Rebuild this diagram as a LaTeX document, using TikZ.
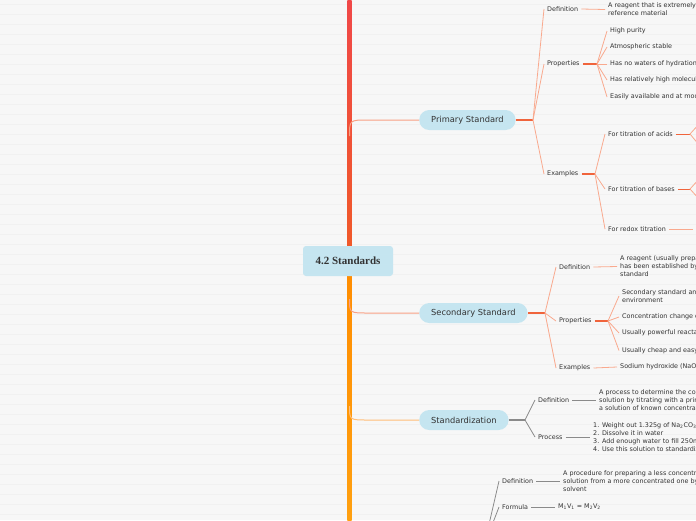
\documentclass[tikz,border=0pt]{standalone}
\usepackage{fontspec}
\setmainfont{DejaVu Sans}
\newfontfamily\rootfont{Liberation Serif}
\definecolor{bgc}{HTML}{F7F7F7}
\definecolor{stripe}{HTML}{F1F1F1}
\definecolor{pillc}{HTML}{C5E5F0}
\definecolor{txt}{HTML}{333333}
\definecolor{salm}{HTML}{F9A98E}
\definecolor{stemr}{HTML}{F0643C}
\definecolor{grayl}{HTML}{8A8A8A}
\definecolor{mainA}{HTML}{F04848}
\definecolor{mainB}{HTML}{F05A28}
\definecolor{mainC}{HTML}{FF8C00}
\definecolor{mainD}{HTML}{FFA010}
\definecolor{brred}{HTML}{F8A084}
\definecolor{brorg}{HTML}{FFBE78}
\tikzset{
  lbl/.style={anchor=west,inner xsep=3pt,inner ysep=1pt,text=txt,align=left,
    font=\fontsize{6.4}{8}\selectfont},
  pill/.style={anchor=west,fill=pillc,rounded corners=10pt,minimum height=20pt,
    inner xsep=12pt,text=txt,font=\fontsize{8.3}{10}\selectfont},
  conn/.style={draw=salm,line width=0.8pt},
  stemc/.style={draw=stemr,line width=1.4pt},
  gconn/.style={draw=grayl,line width=0.8pt},
  gstem/.style={draw=grayl,line width=1.4pt}
}
\begin{document}
\begin{tikzpicture}[x=1pt,y=-1pt]
\useasboundingbox (0,0) rectangle (696,520);
\fill[bgc] (0,0) rectangle (696,520);
\foreach \yy in {4,14,...,514} \draw[stripe,line width=1pt] (0,\yy) -- (696,\yy);
\clip (0,0) rectangle (696,520);

% main trunk
\shade[top color=mainA,bottom color=mainB] (347.3,0) rectangle (351.7,260);
\shade[top color=mainC,bottom color=mainD] (347.3,260) rectangle (351.7,520);

\begin{scope}[yshift=-1pt]
% branch connectors from trunk
\coordinate (bp) at (349.5,135);
\coordinate (bs) at (349.5,298);
\coordinate (bt) at (349.5,405);

\node[pill] (prim) at (419,119) {Primary Standard};
\node[pill] (sec) at (419,312) {Secondary Standard};
\node[pill] (std) at (419,419) {Standardization};

\draw[draw=brred,line width=1pt] (bp) .. controls (349.5,119) .. (368,119) -- (prim.west);
\draw[draw=brred,line width=1pt] (bs) .. controls (349.5,312) .. (368,312) -- (sec.west);
\draw[draw=brorg,line width=1pt] (bt) .. controls (349.5,419) .. (368,419) -- (std.west);

% root
\node[fill=pillc,rounded corners=3pt,minimum width=90pt,minimum height=30pt,text=txt,
  font=\rootfont\bfseries\fontsize{11}{13}\selectfont] (root) at (348,260) {4.2 Standards};

% ---------- Primary Standard ----------
\coordinate (pfk) at (533,119);
\draw[stemc] (prim.east) -- (pfk);
\node[lbl] (pdef) at (544,8) {Definition};
\node[lbl] (pprop) at (544,63) {Properties};
\node[lbl] (pex) at (544,173) {Examples};
\draw[conn] (pfk) -- (pdef.west);
\draw[conn] (pfk) -- (pprop.west);
\draw[conn] (pfk) -- (pex.west);

\node[lbl] (pdeft) at (605,8.5) {A reagent that is extremely\\reference material};
\draw[conn] (pdef.east) -- (pdeft.west);

\coordinate (ppf) at (597,63);
\draw[stemc] (pprop.east) -- (ppf);
\node[lbl] (p1) at (607,30) {High purity};
\node[lbl] (p2) at (607,46) {Atmospheric stable};
\node[lbl] (p3) at (607,63) {Has no waters of hydration};
\node[lbl] (p4) at (607,79) {Has relatively high molecular};
\node[lbl] (p5) at (607,96) {Easily available and at moderate};
\foreach \n in {p1,p2,p3,p4,p5} \draw[conn] (ppf) -- (\n.west);

\coordinate (pef) at (595,173);
\draw[stemc] (pex.east) -- (pef);
\node[lbl] (acid) at (605,133) {For titration of acids};
\node[lbl] (base) at (605,188) {For titration of bases};
\node[lbl] (redox) at (605,228) {For redox titration};
\draw[conn] (pef) -- (acid.west);
\draw[conn] (pef) -- (base.west);
\draw[conn] (pef) -- (redox.west);

\coordinate (af) at (690,133);
\coordinate (af1) at (700,122);
\coordinate (af2) at (700,145);
\draw[stemc,line width=1pt] (acid.east) -- (af);
\draw[conn] (af) -- (af1);
\draw[conn] (af) -- (af2);
\coordinate (bf) at (690,188);
\coordinate (bf1) at (700,177);
\coordinate (bf2) at (700,199);
\draw[stemc,line width=1pt] (base.east) -- (bf);
\draw[conn] (bf) -- (bf1);
\draw[conn] (bf) -- (bf2);
\coordinate (rf) at (693,228);
\draw[conn] (redox.east) -- (rf);

% ---------- Secondary Standard ----------
\coordinate (sfk) at (545,312);
\draw[stemc] (sec.east) -- (sfk);
\node[lbl] (sdef) at (556,266) {Definition};
\node[lbl] (sprop) at (556,320) {Properties};
\node[lbl] (sex) at (556,367) {Examples};
\draw[conn] (sfk) -- (sdef.west);
\draw[conn] (sfk) -- (sprop.west);
\draw[conn] (sfk) -- (sex.west);

\node[lbl] (sdeft) at (617,265.5) {A reagent (usually prepared)\\has been established by\\standard};
\draw[conn] (sdef.east) -- (sdeft.west);

\coordinate (spf) at (608,320);
\draw[stemc] (sprop.east) -- (spf);
\node[lbl] (s1) at (619,295) {Secondary standard and\\environment};
\node[lbl] (s2) at (619,316) {Concentration change over};
\node[lbl] (s3) at (619,332) {Usually powerful reactants};
\node[lbl] (s4) at (619,349.5) {Usually cheap and easy};
\foreach \n in {s1,s2,s3,s4} \draw[conn] (spf) -- (\n.west);

\node[lbl] (sext) at (617,366) {Sodium hydroxide (NaOH)};
\draw[conn] (sex.east) -- (sext.west);

% ---------- Standardization ----------
\coordinate (tfk) at (525,419);
\draw[gstem] (std.east) -- (tfk);
\node[lbl] (tdef) at (535,399) {Definition};
\node[lbl] (tproc) at (535,436) {Process};
\draw[gconn] (tfk) -- (tdef.west);
\draw[gconn] (tfk) -- (tproc.west);

\node[lbl] (tdeft) at (596,399) {A process to determine the concentration\\solution by titrating with a primary\\a solution of known concentration};
\draw[gconn] (tdef.east) -- (tdeft.west);
\node[lbl] (tproct) at (590,436) {1. Weight out 1.325g of Na\textsubscript{2}CO\textsubscript{3}\\2. Dissolve it in water\\3. Add enough water to fill 250mL\\4. Use this solution to standardize};
\draw[gconn] (tproc.east) -- (tproct.west);

% ---------- Dilution (partly visible) ----------
\coordinate (dfk) at (484,545);
\node[lbl] (ddef) at (499,480) {Definition};
\node[lbl] (dform) at (499,506) {Formula};
\draw[gconn] (dfk) -- (ddef.west);
\draw[gconn] (dfk) -- (dform.west);
\node[lbl] (ddeft) at (560,480) {A procedure for preparing a less concentrated\\solution from a more concentrated one by\\solvent};
\draw[gconn] (ddef.east) -- (ddeft.west);
\node[lbl] (dformt) at (555,506) {M\textsubscript{1}V\textsubscript{1} = M\textsubscript{2}V\textsubscript{2}};
\draw[gconn] (dform.east) -- (dformt.west);
\end{scope}
\end{tikzpicture}
\end{document}
